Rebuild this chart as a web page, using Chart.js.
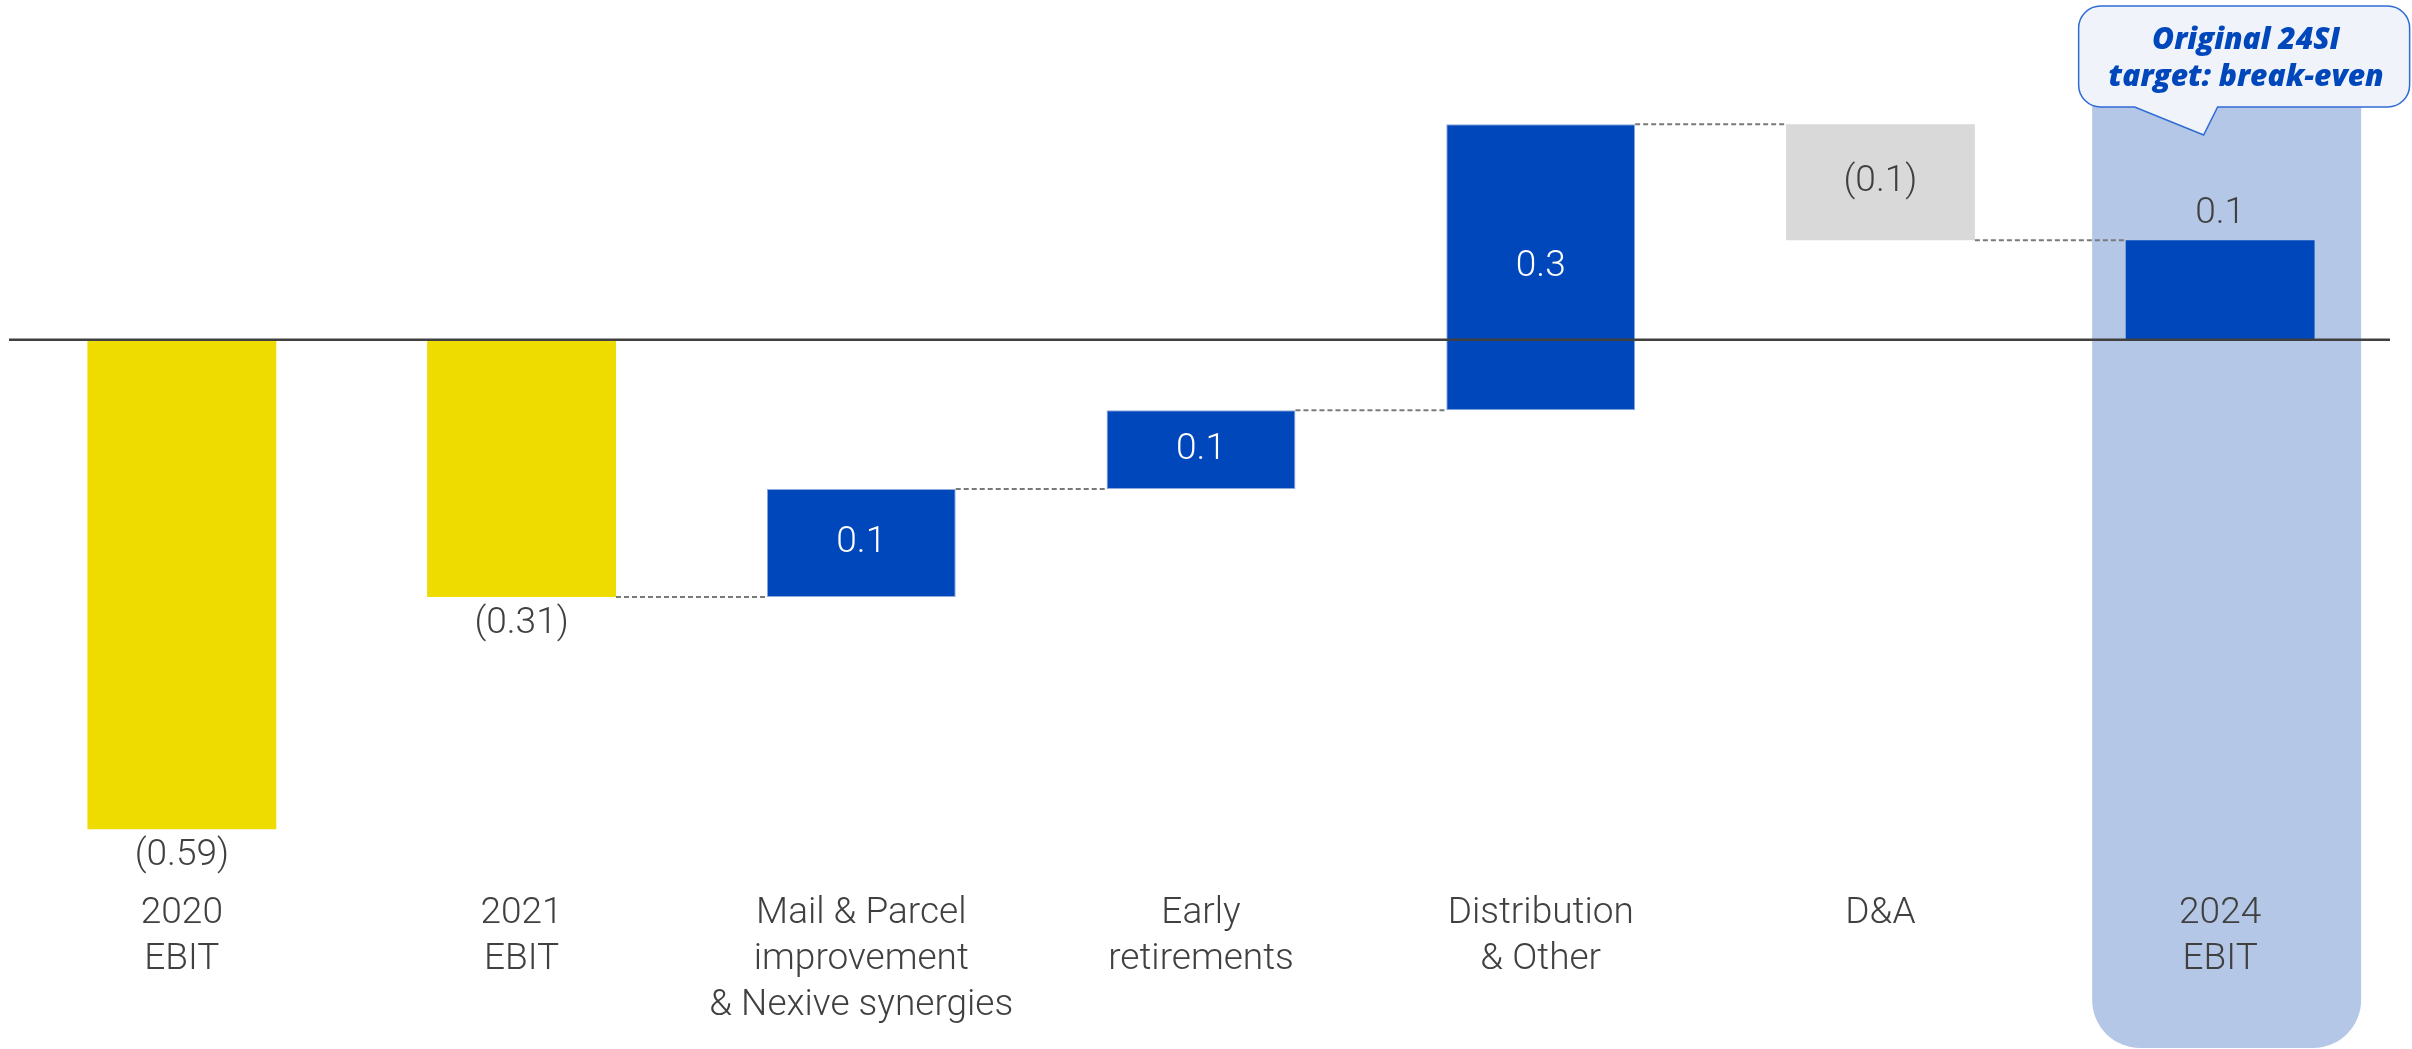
<!DOCTYPE html>
<html>
<head>
<meta charset="utf-8">
<script src="https://cdn.jsdelivr.net/npm/chart.js@4.4.1/dist/chart.umd.min.js"></script>
<style>
  html, body { margin: 0; padding: 0; background: #ffffff; }
  canvas { display: block; }
</style>
</head>
<body>
<canvas id="bridge" width="2412" height="1049"></canvas>
<script>
// EBIT bridge, €bn
const categories = [
  ['2020', 'EBIT'],
  ['2021', 'EBIT'],
  ['Mail & Parcel', 'improvement', '& Nexive synergies'],
  ['Early', 'retirements'],
  ['Distribution', '& Other'],
  ['D&A'],
  ['2024', 'EBIT']
];
const barKinds = ['total', 'total', 'step', 'step', 'step', 'step', 'total'];
const values = [-0.59, -0.31, 0.13, 0.095, 0.345, -0.14, 0.12];
const labelDecimals = [2, 2, 1, 1, 1, 1, 1];
const barColors = ['#EEDC00', '#EEDC00', '#0047BB', '#0047BB', '#0047BB', '#D9D9D9', '#0047BB'];
const calloutLines = ['Original 24SI', 'target: break-even'];
const highlightIndex = 6;

// Totals start at zero, steps float from the running level
let running = 0;
const ranges = values.map((v, i) => {
  if (barKinds[i] === 'total') { running = v; return [0, v]; }
  const start = running;
  running = Math.round((running + v) * 1000) / 1000;
  return [start, running];
});

function formatValue(v, d) {
  const s = Math.abs(v).toFixed(d);
  return v < 0 ? '(' + s + ')' : s;
}

const TEXT = '#404040';
const LABEL_FONT = '300 37px Roboto, "Open Sans", sans-serif';

const bridgeDecor = {
  id: 'bridgeDecor',
  beforeDraw(chart) {
    // highlighted column behind the closing bar
    const ctx = chart.ctx;
    const cx = chart.scales.x.getPixelForValue(highlightIndex);
    const left = cx - 128, right = cx + 141, top = 30, bottom = chart.height - 1;
    ctx.save();
    ctx.fillStyle = '#B4C7E7';
    ctx.beginPath();
    ctx.roundRect(left, top, right - left, bottom - top, 48);
    ctx.fill();
    ctx.restore();
  },
  afterDatasetsDraw(chart) {
    const ctx = chart.ctx;
    const meta = chart.getDatasetMeta(0);
    const y = chart.scales.y;
    const area = chart.chartArea;

    // dashed connectors between consecutive bars
    ctx.save();
    ctx.strokeStyle = '#7A7A7A';
    ctx.lineWidth = 2;
    ctx.setLineDash([5, 3]);
    for (let i = 1; i < values.length - 1; i++) {
      const a = meta.data[i], b = meta.data[i + 1];
      const level = y.getPixelForValue(ranges[i][1]);
      ctx.beginPath();
      ctx.moveTo(a.x + a.width / 2, level);
      ctx.lineTo(b.x - b.width / 2, level);
      ctx.stroke();
    }
    ctx.restore();

    // zero line
    const y0 = y.getPixelForValue(0);
    ctx.save();
    ctx.strokeStyle = '#404040';
    ctx.lineWidth = 2.5;
    ctx.beginPath();
    ctx.moveTo(area.left - 3, y0);
    ctx.lineTo(area.right, y0);
    ctx.stroke();
    ctx.restore();

    // value labels
    ctx.save();
    ctx.font = LABEL_FONT;
    ctx.textAlign = 'center';
    ctx.textBaseline = 'middle';
    meta.data.forEach((bar, i) => {
      const top = Math.min(bar.y, bar.base);
      const bottom = Math.max(bar.y, bar.base);
      const text = formatValue(values[i], labelDecimals[i]);
      let ty, color = TEXT;
      if (barKinds[i] === 'total') {
        ty = values[i] < 0 ? bottom + 27 : top - 27;
      } else {
        ty = (top + bottom) / 2;
        color = barColors[i] === '#0047BB' ? '#FFFFFF' : TEXT;
      }
      ctx.fillStyle = color;
      ctx.fillText(text, bar.x, ty);
    });
    ctx.restore();
  },
  afterDraw(chart) {
    // speech-bubble callout above the closing bar
    const ctx = chart.ctx;
    const cx = chart.scales.x.getPixelForValue(highlightIndex);
    const L = cx - 141.5, R = cx + 189.5, T = 6, B = 107, r = 22;
    const tailL = cx - 85.5, tailR = cx - 2.5, tipX = cx - 16.5, tipY = 135;
    ctx.save();
    ctx.beginPath();
    ctx.moveTo(L + r, T);
    ctx.lineTo(R - r, T);
    ctx.arcTo(R, T, R, T + r, r);
    ctx.lineTo(R, B - r);
    ctx.arcTo(R, B, R - r, B, r);
    ctx.lineTo(tailR, B);
    ctx.lineTo(tipX, tipY);
    ctx.lineTo(tailL, B);
    ctx.lineTo(L + r, B);
    ctx.arcTo(L, B, L, B - r, r);
    ctx.lineTo(L, T + r);
    ctx.arcTo(L, T, L + r, T, r);
    ctx.closePath();
    ctx.fillStyle = '#F0F3FA';
    ctx.fill();
    ctx.strokeStyle = '#2F6BD6';
    ctx.lineWidth = 1.5;
    ctx.stroke();

    ctx.fillStyle = '#0047BB';
    ctx.font = 'italic 800 30px "Open Sans", Lato, sans-serif';
    ctx.textAlign = 'center';
    ctx.textBaseline = 'alphabetic';
    ctx.fillText(calloutLines[0], cx + 26, 49);
    ctx.fillText(calloutLines[1], cx + 26, 86);
    ctx.restore();
  }
};

new Chart(document.getElementById('bridge'), {
  type: 'bar',
  data: {
    labels: categories,
    datasets: [{
      data: ranges,
      backgroundColor: barColors,
      borderColor: barColors.map((c, i) => (barKinds[i] === 'step' && c === '#0047BB') ? '#8FAADC' : c),
      borderWidth: barKinds.map((k, i) => (k === 'step' && barColors[i] === '#0047BB') ? 1 : 0),
      borderSkipped: false,
      categoryPercentage: 1.0,
      barPercentage: 0.556
    }]
  },
  options: {
    responsive: false,
    animation: false,
    devicePixelRatio: 1,
    layout: { padding: { left: 12, right: 22, top: 8, bottom: 0 } },
    plugins: {
      legend: { display: false },
      tooltip: { enabled: false },
      title: { display: false }
    },
    scales: {
      x: {
        grid: { display: false, drawTicks: false },
        border: { display: false },
        ticks: {
          color: TEXT,
          padding: 12,
          maxRotation: 0,
          autoSkip: false,
          font: { family: 'Roboto, "Open Sans", sans-serif', size: 37, weight: 300, lineHeight: 1.24 }
        },
        afterFit(scale) { scale.height = 170; }
      },
      y: {
        display: false,
        min: -0.65,
        max: 0.40
      }
    }
  },
  plugins: [bridgeDecor]
});
</script>
</body>
</html>
